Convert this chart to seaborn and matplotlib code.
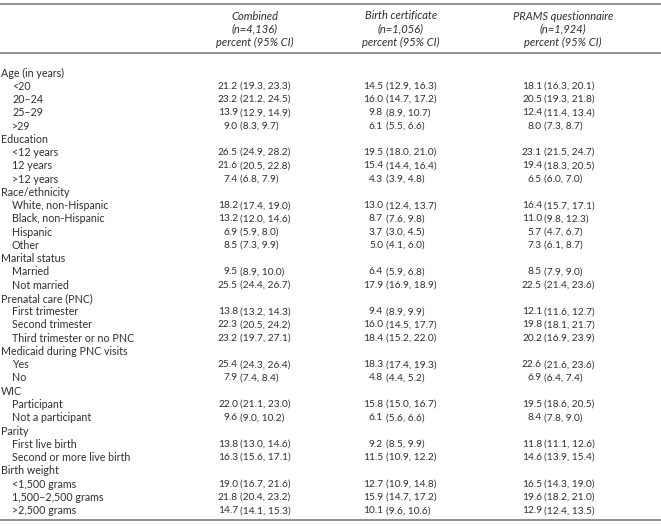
import matplotlib
matplotlib.use("Agg")
import matplotlib.pyplot as plt
import seaborn as sns

sns.set_theme(style="white")
plt.rcParams["font.family"] = ["Lato", "DejaVu Sans"]

# column headers
columns = ["Combined", "Birth certificate", "PRAMS questionnaire"]
sizes = ["(n=4,136)", "(n=1,056)", "(n=1,924)"]

# sections and their rows
sections = ["Age (in years)", "Education", "Race/ethnicity", "Marital status",
            "Prenatal care (PNC)", "Medicaid during PNC visits", "WIC", "Parity",
            "Birth weight"]
rows = [
    ["<20", "20\u201324", "25\u201329", ">29"],
    ["<12 years", "12 years", ">12 years"],
    ["White, non-Hispanic", "Black, non-Hispanic", "Hispanic", "Other"],
    ["Married", "Not married"],
    ["First trimester", "Second trimester", "Third trimester or no PNC"],
    ["Yes", "No"],
    ["Participant", "Not a participant"],
    ["First live birth", "Second or more live birth"],
    ["<1,500 grams", "1,500\u20132,500 grams", ">2,500 grams"],
]

# percent, lower CI, upper CI per column (row order as above)
combined_pct = [21.2, 23.2, 13.9, 9.0, 26.5, 21.6, 7.4, 18.2, 13.2, 6.9, 8.5,
                9.5, 25.5, 13.8, 22.3, 23.2, 25.4, 7.9, 22.0, 9.6, 13.8, 16.3,
                19.0, 21.8, 14.7]
combined_lo = [19.3, 21.2, 12.9, 8.3, 24.9, 20.5, 6.8, 17.4, 12.0, 5.9, 7.3,
               8.9, 24.4, 13.2, 20.5, 19.7, 24.3, 7.4, 21.1, 9.0, 13.0, 15.6,
               16.7, 20.4, 14.1]
combined_hi = [23.3, 24.5, 14.9, 9.7, 28.2, 22.8, 7.9, 19.0, 14.6, 8.0, 9.9,
               10.0, 26.7, 14.3, 24.2, 27.1, 26.4, 8.4, 23.0, 10.2, 14.6, 17.1,
               21.6, 23.2, 15.3]

birth_pct = [14.5, 16.0, 9.8, 6.1, 19.5, 15.4, 4.3, 13.0, 8.7, 3.7, 5.0,
             6.4, 17.9, 9.4, 16.0, 18.4, 18.3, 4.8, 15.8, 6.1, 9.2, 11.5,
             12.7, 15.9, 10.1]
birth_lo = [12.9, 14.7, 8.9, 5.5, 18.0, 14.4, 3.9, 12.4, 7.6, 3.0, 4.1,
            5.9, 16.9, 8.9, 14.5, 15.2, 17.4, 4.4, 15.0, 5.6, 8.5, 10.9,
            10.9, 14.7, 9.6]
birth_hi = [16.3, 17.2, 10.7, 6.6, 21.0, 16.4, 4.8, 13.7, 9.8, 4.5, 6.0,
            6.8, 18.9, 9.9, 17.7, 22.0, 19.3, 5.2, 16.7, 6.6, 9.9, 12.2,
            14.8, 17.2, 10.6]

prams_pct = [18.1, 20.5, 12.4, 8.0, 23.1, 19.4, 6.5, 16.4, 11.0, 5.7, 7.3,
             8.5, 22.5, 12.1, 19.8, 20.2, 22.6, 6.9, 19.5, 8.4, 11.8, 14.6,
             16.5, 19.6, 12.9]
prams_lo = [16.3, 19.3, 11.4, 7.3, 21.5, 18.3, 6.0, 15.7, 9.8, 4.7, 6.1,
            7.9, 21.4, 11.6, 18.1, 16.9, 21.6, 6.4, 18.6, 7.8, 11.1, 13.9,
            14.3, 18.2, 12.4]
prams_hi = [20.1, 21.8, 13.4, 8.7, 24.7, 20.5, 7.0, 17.1, 12.3, 6.7, 8.7,
            9.0, 23.6, 12.7, 21.7, 23.9, 23.6, 7.4, 20.5, 9.0, 12.6, 15.4,
            19.0, 21.0, 13.5]

values = [(combined_pct, combined_lo, combined_hi),
          (birth_pct, birth_lo, birth_hi),
          (prams_pct, prams_lo, prams_hi)]

fig = plt.figure(figsize=(6.61, 5.28), dpi=100)
ax = fig.add_axes([0, 0, 1, 1])
ax.set_xlim(0, 661)
ax.set_ylim(528, 0)
ax.axis("off")

txt = "#2e2e2e"
fs_lab = 7.7
fs_head = 8.0
fs_val = 7.3
header_x = [255, 401, 563]
pct_right = [238, 383, 542]

for cx, name, n in zip(header_x, columns, sizes):
    ax.text(cx, 16, name, ha="center", va="center", fontsize=fs_head, style="italic", color=txt)
    ax.text(cx, 29, n, ha="center", va="center", fontsize=fs_head, style="italic", color=txt)
    ax.text(cx, 42, "percent (95% CI)", ha="center", va="center", fontsize=fs_head,
            style="italic", color=txt)

for y in (4, 53, 520):
    ax.plot([0, 661], [y, y], color="#7d7d7d", lw=1.2, solid_capstyle="butt")

y = 73
step = 13.26
k = 0
for sec, items in zip(sections, rows):
    ax.text(1, y, sec, ha="left", va="center", fontsize=fs_lab, color=txt)
    y += step
    for label in items:
        ax.text(12, y, label, ha="left", va="center", fontsize=fs_lab, color=txt)
        for xr, (pct, lo, hi) in zip(pct_right, values):
            ax.text(xr, y, f"{pct[k]:.1f}", ha="right", va="center", fontsize=fs_val, color=txt)
            ax.text(xr + 2.5, y, f"({lo[k]:.1f}, {hi[k]:.1f})", ha="left", va="center",
                    fontsize=fs_val, color=txt)
        k += 1
        y += step

fig.savefig("out.png", dpi=100)
